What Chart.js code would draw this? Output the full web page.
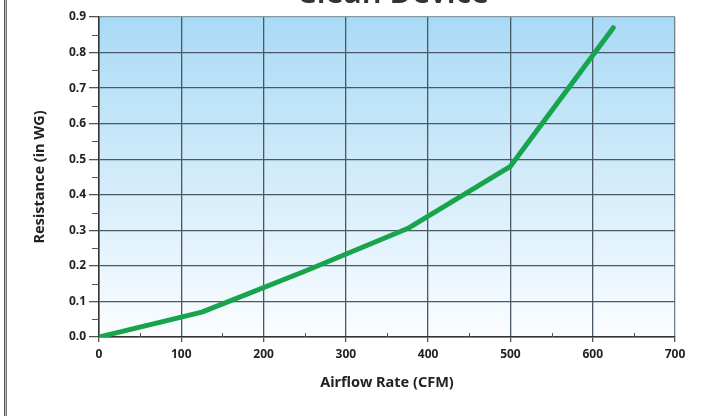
<!DOCTYPE html>
<html>
<head>
<meta charset="utf-8">
<script src="https://cdn.jsdelivr.net/npm/chart.js@4/dist/chart.umd.min.js"></script>
<style>
  html, body { margin: 0; padding: 0; background: #fff; }
  #wrap { position: relative; width: 704px; height: 416px; overflow: hidden; }
  #frame { position: absolute; left: 4px; top: 0; width: 1px; height: 416px;
           border-left: 1px solid #555; border-right: 1px solid #777; background: #bbb; }
  canvas { position: absolute; left: 0; top: 0; }
</style>
</head>
<body>
<div id="wrap">
  <canvas id="chart" width="704" height="416"></canvas>
  <div id="frame"></div>
</div>
<script>
const chartTitle = 'Clean Device';
const airflow = [0, 125, 250, 375, 500, 625];          // CFM
const resistance = [0, 0.07, 0.185, 0.305, 0.48, 0.87]; // in WG
const xMinorTicks = [50, 150, 250, 350, 450, 550, 650];
const yMinorTicks = [0.05, 0.15, 0.25, 0.35, 0.45, 0.55, 0.65, 0.75, 0.85];

const labelFont = { family: 'Noto Sans', size: 12, weight: 'bold' };
const titleFont = { family: 'Noto Sans', size: 14.5, weight: 'bold' };

// light blue -> white fill behind the plot
const plotBackground = {
  id: 'plotBackground',
  beforeDraw(chart) {
    const { ctx, chartArea: a } = chart;
    const g = ctx.createLinearGradient(0, a.top, 0, a.bottom);
    g.addColorStop(0, '#a9daf5');
    g.addColorStop(1, '#fbfdff');
    ctx.save();
    ctx.fillStyle = g;
    ctx.fillRect(a.left, a.top, a.right - a.left, a.bottom - a.top);
    ctx.restore();
  },
};

// small minor ticks, plus the title cut off at the top
const extras = {
  id: 'extras',
  afterDraw(chart) {
    const { ctx, chartArea: a, scales } = chart;
    ctx.save();
    ctx.strokeStyle = '#555';
    ctx.lineWidth = 1;
    ctx.beginPath();
    yMinorTicks.forEach((v) => {
      const y = Math.round(scales.y.getPixelForValue(v)) + 0.5;
      ctx.moveTo(a.left - 7, y);
      ctx.lineTo(a.left, y);
    });
    xMinorTicks.forEach((v) => {
      const x = Math.round(scales.x.getPixelForValue(v)) + 0.5;
      ctx.moveTo(x, a.bottom);
      ctx.lineTo(x, a.bottom - 4);
    });
    ctx.stroke();

    ctx.fillStyle = '#333';
    ctx.font = '600 31px "Noto Sans"';
    ctx.textAlign = 'center';
    ctx.textBaseline = 'alphabetic';
    ctx.fillText(chartTitle, (a.left + a.right) / 2 + 6, 3);
    ctx.restore();
  },
};

new Chart(document.getElementById('chart'), {
  type: 'line',
  data: {
    datasets: [{
      data: airflow.map((x, i) => ({ x, y: resistance[i] })),
      borderColor: '#18a44c',
      borderWidth: 5,
      borderCapStyle: 'round',
      borderJoinStyle: 'round',
      pointRadius: 0,
      tension: 0,
      fill: false,
    }],
  },
  options: {
    responsive: false,
    animation: false,
    layout: { padding: { left: 0, top: 17, right: 29, bottom: 0 } },
    plugins: {
      legend: { display: false },
      tooltip: { enabled: false },
    },
    scales: {
      x: {
        type: 'linear',
        min: 0,
        max: 700,
        afterFit: (s) => { s.height = 79; },
        ticks: { stepSize: 100, color: '#222', font: labelFont, padding: 5, maxRotation: 0 },
        grid: {
          color: (c) => (c.tick && c.tick.value === 700 ? '#6f7f8b' : '#4a5866'),
          lineWidth: 1.3,
          tickLength: 5,
          tickColor: '#555',
        },
        border: { color: '#333', width: 1.5 },
        title: {
          display: true,
          text: 'Airflow Rate (CFM)',
          color: '#222',
          font: titleFont,
          padding: { top: 0, bottom: 24 },
        },
      },
      y: {
        min: 0,
        max: 0.9,
        afterFit: (s) => { s.width = 99; },
        ticks: {
          stepSize: 0.1,
          color: '#222',
          font: labelFont,
          padding: 3,
          callback: (v) => v.toFixed(1),
        },
        grid: {
          color: (c) => (c.tick && Math.abs(c.tick.value - 0.9) < 1e-6 ? '#8797a3' : '#4a5866'),
          lineWidth: 1.3,
          tickLength: 10,
          tickColor: '#555',
        },
        border: { color: '#333', width: 1.5 },
        title: {
          display: true,
          text: 'Resistance (in WG)',
          color: '#222',
          font: titleFont,
          padding: { top: 31, bottom: 0 },
        },
      },
    },
  },
  plugins: [plotBackground, extras],
});
</script>
</body>
</html>
